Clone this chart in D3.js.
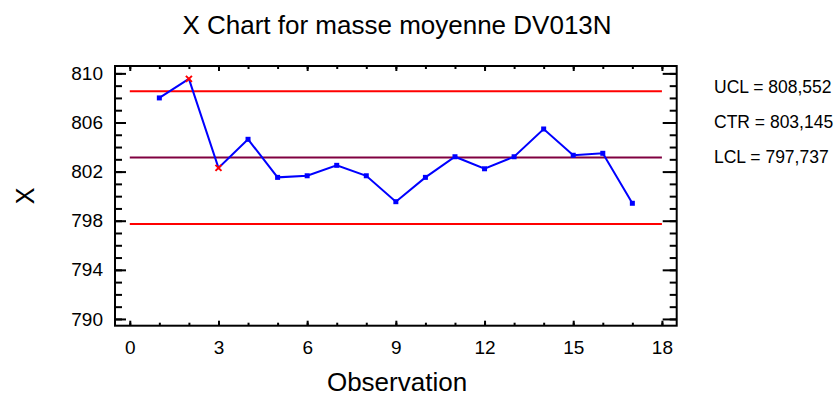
<!DOCTYPE html>
<html>
<head>
<meta charset="utf-8">
<script src="https://cdn.jsdelivr.net/npm/d3@7"></script>
<style>
	body { margin: 0; background: #fff; }
	text { font-family: "Liberation Sans", Arial, sans-serif; fill: #000; }
</style>
</head>
<body>
<svg id="chart" width="837" height="398"></svg>
<script>
"use strict";

// observations & subgroup means
var observations = [1,2,3,4,5,6,7,8,9,10,11,12,13,14,15,16,17];
var means = [808.0,809.55,802.3,804.63,801.53,801.66,802.51,801.66,799.55,801.53,803.21,802.23,803.21,805.47,803.33,803.49,799.42];
var flagged = [2,3];   // points drawn with a red X

var limitNames = ["UCL","CTR","LCL"];
var limitValues = [808.552, 803.145, 797.737];
var limitColors = ["#ff0000","#800040","#ff0000"];

var xTicks = [0,3,6,9,12,15,18];
var yTicks = [790,794,798,802,806,810];

var svg = d3.select("#chart");
var plotL = 115, plotT = 66, plotR = 676.7, plotB = 325.7;

var x = d3.scaleLinear().domain([-0.5, 18.5]).range([plotL, plotR]);
var y = d3.scaleLinear().domain([789.45, 810.6]).range([plotB, plotT]);

var minorX = d3.range(0, 19);
var minorY = d3.range(790, 811);

// title
svg.append("text")
	.attr("x", 397).attr("y", 33.5)
	.attr("text-anchor","middle")
	.style("font-size","26px")
	.text("X Chart for masse moyenne DV013N");

// minor ticks
svg.append("g").attr("transform","translate("+plotL+",0)")
	.call(d3.axisLeft(y).tickValues(minorY).tickFormat("").tickSize(-7));
svg.append("g").attr("transform","translate("+plotR+",0)")
	.call(d3.axisRight(y).tickValues(minorY).tickFormat("").tickSize(-7));
svg.append("g").attr("transform","translate(0,"+plotB+")")
	.call(d3.axisBottom(x).tickValues(minorX).tickFormat("").tickSize(-3));
svg.append("g").attr("transform","translate(0,"+plotT+")")
	.call(d3.axisTop(x).tickValues(minorX).tickFormat("").tickSize(-3));

// major ticks + labels
svg.append("g").attr("class","yaxis").attr("transform","translate("+plotL+",0)")
	.call(d3.axisLeft(y).tickValues(yTicks).tickSize(-11).tickPadding(12));
svg.append("g").attr("transform","translate("+plotR+",0)")
	.call(d3.axisRight(y).tickValues(yTicks).tickFormat("").tickSize(-14));
svg.append("g").attr("class","xaxis").attr("transform","translate(0,"+plotB+")")
	.call(d3.axisBottom(x).tickValues(xTicks).tickSize(-5).tickPadding(15));
svg.append("g").attr("transform","translate(0,"+plotT+")")
	.call(d3.axisTop(x).tickValues(xTicks).tickFormat("").tickSize(-5));

svg.selectAll(".domain").remove();
svg.selectAll(".tick line").attr("stroke","#000").attr("stroke-width",2);
svg.selectAll(".tick text")
	.style("font-family","'Liberation Sans', Arial, sans-serif")
	.style("font-size","19px").attr("fill","#000");

// frame
svg.append("rect")
	.attr("x", plotL).attr("y", plotT)
	.attr("width", plotR-plotL).attr("height", plotB-plotT)
	.attr("fill","none").attr("stroke","#000").attr("stroke-width",2);

// control limits
svg.selectAll(".limit").data(limitValues).enter().append("line")
	.attr("class","limit")
	.attr("x1", x(0)).attr("x2", x(18))
	.attr("y1", function(d){ return y(d); })
	.attr("y2", function(d){ return y(d); })
	.attr("stroke", function(d,i){ return limitColors[i]; })
	.attr("stroke-width", 2);

// data line
var line = d3.line()
	.x(function(d,i){ return x(observations[i]); })
	.y(function(d){ return y(d); });
svg.append("path").datum(means)
	.attr("d", line)
	.attr("fill","none").attr("stroke","#0000ff").attr("stroke-width",2);

// markers
means.forEach(function(m,i){
	var px = x(observations[i]), py = y(m);
	if (flagged.indexOf(observations[i]) >= 0) {
		svg.append("path")
			.attr("d","M"+(px-3)+","+(py-3)+"L"+(px+3)+","+(py+3)+"M"+(px+3)+","+(py-3)+"L"+(px-3)+","+(py+3))
			.attr("stroke","#ff0000").attr("stroke-width",2);
	} else {
		svg.append("rect")
			.attr("x", px-2.5).attr("y", py-2.5)
			.attr("width",5).attr("height",5)
			.attr("fill","#0000ff");
	}
});

// limit labels
var fmt = d3.format(".3f");
limitNames.forEach(function(n,i){
	svg.append("text")
		.attr("x", 714).attr("y", 93 + i*35)
		.style("font-size","17.5px")
		.text(n + " = " + fmt(limitValues[i]).replace(".", ","));
});

// axis titles
svg.append("text")
	.attr("x", 397).attr("y", 391)
	.attr("text-anchor","middle")
	.style("font-size","26px")
	.text("Observation");
svg.append("text")
	.attr("transform","translate(34,196) rotate(-90)")
	.attr("text-anchor","middle")
	.style("font-size","25px")
	.text("X");
</script>
</body>
</html>
